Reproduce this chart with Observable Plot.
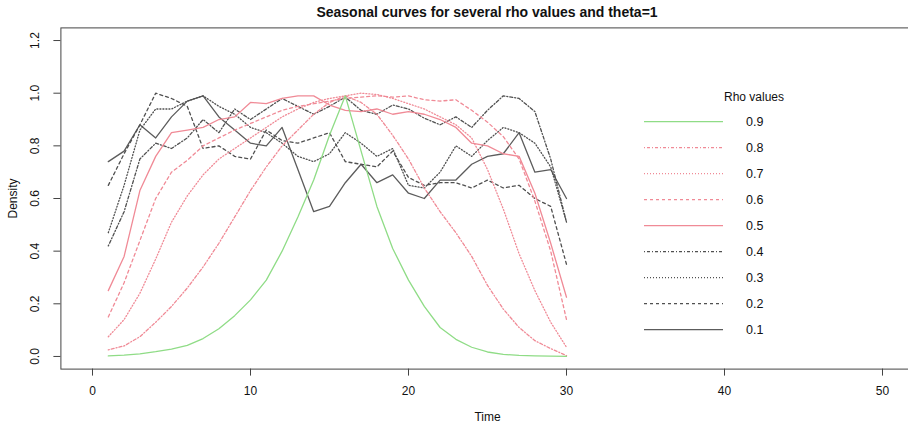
<!DOCTYPE html>
<html>
<head>
<meta charset="utf-8">
<script src="https://cdn.jsdelivr.net/npm/d3@7"></script>
<script src="https://cdn.jsdelivr.net/npm/@observablehq/plot@0.6"></script>
<style>
  html, body { margin: 0; padding: 0; background: #fff; overflow: hidden; }
  #wrap { position: relative; width: 908px; height: 424px; font-family: "Liberation Sans", Arial, sans-serif; }
  #title { position: absolute; top: 4px; left: 487px; transform: translateX(-50%); white-space: nowrap; font-weight: bold; font-size: 14px; color: #111; }
  #legend { position: absolute; left: 0; top: 0; pointer-events: none; }
</style>
</head>
<body>
<div id="wrap">
  <div id="chart"></div>
  <div id="title">Seasonal curves for several rho values and theta=1</div>
  <svg id="legend" width="908" height="424"></svg>
</div>
<script>
// ---- data ----
const time = [1,2,3,4,5,6,7,8,9,10,11,12,13,14,15,16,17,18,19,20,21,22,23,24,25,26,27,28,29,30];
const rhoLabels = ["0.1","0.2","0.3","0.4","0.5","0.6","0.7","0.8","0.9"];
const rho01 = [0.74,0.78,0.88,0.83,0.91,0.97,0.99,0.91,0.86,0.81,0.80,0.87,0.71,0.55,0.57,0.66,0.73,0.66,0.69,0.62,0.60,0.67,0.67,0.73,0.76,0.77,0.85,0.70,0.71,0.60];
const rho02 = [0.65,0.77,0.88,1.00,0.98,0.95,0.79,0.80,0.76,0.75,0.86,0.82,0.81,0.83,0.85,0.74,0.73,0.72,0.78,0.68,0.65,0.66,0.66,0.64,0.67,0.64,0.65,0.60,0.57,0.35];
const rho03 = [0.47,0.65,0.86,0.94,0.94,0.97,0.99,0.95,0.92,0.87,0.85,0.81,0.76,0.74,0.77,0.85,0.81,0.76,0.79,0.65,0.64,0.70,0.80,0.76,0.82,0.87,0.85,0.81,0.72,0.51];
const rho04 = [0.42,0.55,0.75,0.81,0.79,0.83,0.90,0.85,0.94,0.90,0.94,0.98,0.95,0.92,0.95,0.985,0.935,0.92,0.955,0.94,0.905,0.88,0.91,0.87,0.935,0.99,0.98,0.93,0.75,0.51];
const rho05 = [0.25,0.38,0.63,0.76,0.85,0.86,0.87,0.90,0.91,0.965,0.96,0.98,0.99,0.99,0.955,0.935,0.93,0.94,0.92,0.93,0.92,0.90,0.87,0.81,0.80,0.77,0.76,0.62,0.43,0.225];
const rho06 = [0.15,0.28,0.44,0.60,0.70,0.745,0.80,0.83,0.86,0.885,0.91,0.935,0.95,0.96,0.97,0.98,0.985,0.99,0.985,0.99,0.975,0.97,0.975,0.935,0.89,0.835,0.75,0.59,0.40,0.14];
const rho07 = [0.075,0.14,0.24,0.37,0.51,0.61,0.69,0.75,0.79,0.83,0.87,0.91,0.94,0.965,0.98,0.99,1.0,0.995,0.98,0.96,0.94,0.91,0.88,0.83,0.71,0.56,0.39,0.25,0.13,0.035];
const rho08 = [0.025,0.04,0.075,0.13,0.19,0.26,0.34,0.43,0.53,0.63,0.72,0.80,0.86,0.92,0.965,0.99,0.965,0.92,0.84,0.75,0.64,0.55,0.47,0.38,0.27,0.18,0.11,0.06,0.03,0.003];
const rho09 = [0.002,0.005,0.01,0.018,0.028,0.042,0.068,0.105,0.155,0.215,0.29,0.40,0.53,0.67,0.84,0.99,0.78,0.57,0.41,0.29,0.19,0.11,0.065,0.035,0.017,0.008,0.004,0.002,0.001,0.0];
const xTicks = [0,10,20,30,40,50];
const yTicks = [0,0.2,0.4,0.6,0.8,1.0,1.2];

// ---- styles ----
const gray = "#505050", pink = "#f08a96", green = "#8fdc86";
const solid = null, dashed = "3,3", dotted = "1,2", dotdash = "1,2,3,2";
const styles = [
  {color: "#5c5c5c", dash: solid},
  {color: gray, dash: dashed},
  {color: gray, dash: dotted},
  {color: gray, dash: dotdash},
  {color: pink, dash: solid},
  {color: pink, dash: dashed},
  {color: pink, dash: dotted},
  {color: pink, dash: dotdash},
  {color: green, dash: solid}
];
const seriesValues = [rho01, rho02, rho03, rho04, rho05, rho06, rho07, rho08, rho09];

const lineMarks = seriesValues.map((vals, i) =>
  Plot.line(time.map((t, j) => ({time: t, density: vals[j], rho: rhoLabels[i]})), {
    x: "time", y: "density",
    stroke: styles[i].color,
    strokeWidth: 1.3,
    strokeDasharray: styles[i].dash
  })
);

const chart = Plot.plot({
  width: 908,
  height: 424,
  marginLeft: 60.4,
  marginRight: -5.6,
  marginTop: 27.4,
  marginBottom: 55.4,
  x: {domain: [-2, 52]},
  y: {domain: [-0.048, 1.248]},
  style: {fontFamily: "'Liberation Sans', Arial, sans-serif", fontSize: "12px", color: "#111", background: "#fff", overflow: "hidden"},
  marks: [
    Plot.frame({stroke: "#444", strokeWidth: 1}),
    Plot.axisX({ticks: xTicks, tickSize: 7, tickPadding: 10, tickFormat: d => String(d), label: "Time", labelAnchor: "center", labelOffset: 52, labelArrow: "none", stroke: "#444"}),
    Plot.axisY({ticks: yTicks, tickSize: 7, tickPadding: 15, tickRotate: -90, tickFormat: d3.format(".1f"), label: "Density", labelAnchor: "center", labelOffset: 52, labelArrow: "none", stroke: "#444"}),
    ...lineMarks
  ]
});
document.getElementById("chart").appendChild(chart);

// ---- legend (rows from top: 0.9 .. 0.1) ----
const legend = d3.select("#legend");
legend.append("text")
  .attr("x", 754).attr("y", 101)
  .attr("text-anchor", "middle")
  .style("font-family", "'Liberation Sans', Arial, sans-serif")
  .style("font-size", "12px").attr("fill", "#111")
  .text("Rho values");
const order = d3.range(rhoLabels.length).reverse();
order.forEach((si, row) => {
  const y = 121.7 + row * 26.0;
  legend.append("line")
    .attr("x1", 644).attr("x2", 723).attr("y1", y).attr("y2", y)
    .attr("stroke", styles[si].color).attr("stroke-width", 1.3)
    .attr("stroke-dasharray", styles[si].dash);
  legend.append("text")
    .attr("x", 746).attr("y", y + 4.5)
    .style("font-family", "'Liberation Sans', Arial, sans-serif")
    .style("font-size", "12.5px").attr("fill", "#111")
    .text(rhoLabels[si]);
});
</script>
</body>
</html>
